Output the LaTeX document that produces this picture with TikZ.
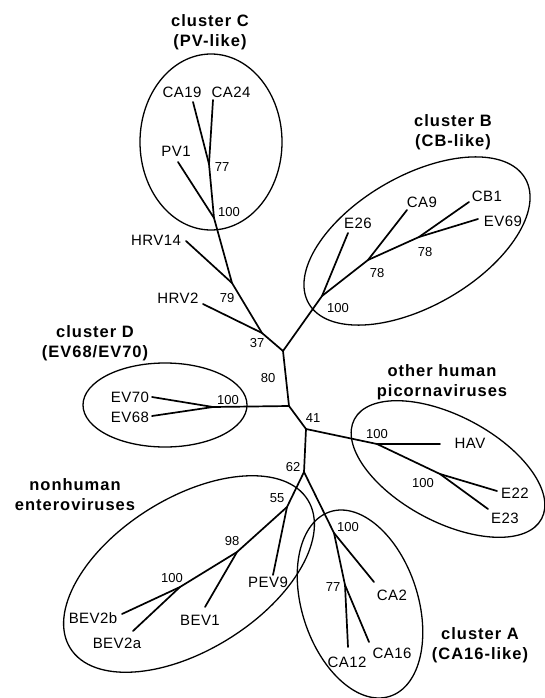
\documentclass[tikz,border=0pt]{standalone}
\usepackage{fontspec}
\setmainfont{Liberation Sans}
\newfontfamily\ttlfont[LetterSpace=6]{Liberation Sans}
\newfontfamily\leaffont[LetterSpace=3]{Liberation Sans}
\begin{document}
\begin{tikzpicture}[x=1pt,y=-1pt,
  br/.style={line width=1.7pt, line cap=round, line join=round},
  ell/.style={line width=1.3pt},
  leaf/.style={font=\leaffont\fontsize{15}{15}\selectfont, inner sep=0pt},
  bs/.style={font=\fontsize{13}{13}\selectfont, inner sep=0pt},
  ttl/.style={font=\ttlfont\bfseries\fontsize{16.5}{20}\selectfont, align=center, inner sep=0pt}]
\useasboundingbox (0,0) rectangle (545,698);

% ---------- coordinates ----------
% cluster C and HRV
\coordinate (tCA19) at (193,102);
\coordinate (tCA24) at (213,100);
\coordinate (n77C) at (209,164);
\coordinate (tPV1) at (178,162);
\coordinate (n100C) at (214,218);
\coordinate (n79) at (232,283);
\coordinate (tHRV14) at (186,241);
\coordinate (tHRV2) at (203,304);
\coordinate (n37) at (262,333);
\coordinate (R1) at (283,351);
% cluster B
\coordinate (nB100) at (322,296);
\coordinate (tE26) at (348,233);
\coordinate (nB78a) at (368,260);
\coordinate (tCA9) at (407,210);
\coordinate (nB78b) at (419,237);
\coordinate (tCB1) at (469,202);
\coordinate (tEV69) at (478,219);
% cluster D
\coordinate (R2) at (289,406);
\coordinate (nD) at (213,407);
\coordinate (tEV70) at (152,397);
\coordinate (tEV68) at (152,416);
% other human
\coordinate (R3) at (306,429);
\coordinate (nH100) at (377,444);
\coordinate (tHAV) at (440,444);
\coordinate (nE100) at (440,474);
\coordinate (tE22) at (497,491);
\coordinate (tE23) at (488,509);
% nonhuman
\coordinate (n62) at (304,472);
\coordinate (n55) at (287,507);
\coordinate (tPEV9) at (273,575);
\coordinate (n98) at (237,552);
\coordinate (tBEV1) at (205,607);
\coordinate (n100N) at (180,587);
\coordinate (tBEV2b) at (122,614);
\coordinate (tBEV2a) at (133,631);
% cluster A
\coordinate (nA100) at (334,533);
\coordinate (tCA2) at (374,582);
\coordinate (n77A) at (345,585);
\coordinate (tCA12) at (348,647);
\coordinate (tCA16) at (369,642);

% ---------- ellipses ----------
\draw[ell] (211,142) ellipse [x radius=71pt, y radius=88pt];
\draw[ell, rotate around={30:(417,241)}] (417,241) ellipse [x radius=125pt, y radius=65pt];
\draw[ell] (165,405) ellipse [x radius=82pt, y radius=42pt];
\draw[ell, rotate around={-28:(448,469)}] (448,469) ellipse [x radius=106pt, y radius=53pt];
\draw[ell, rotate around={32:(189,574)}] (189,574) ellipse [x radius=140pt, y radius=76pt];
\draw[ell, rotate around={18:(360,604)}] (360,604) ellipse [x radius=58pt, y radius=97pt];

% ---------- branches ----------
\draw[br] (tCA19) -- (n77C);
\draw[br] (tCA24) -- (n77C) -- (n100C) -- (n79) -- (n37) -- (R1);
\draw[br] (tPV1) -- (n100C);
\draw[br] (tHRV14) -- (n79);
\draw[br] (tHRV2) -- (n37);
\draw[br] (R1) -- (nB100) -- (nB78a) -- (nB78b) -- (tCB1);
\draw[br] (tE26) -- (nB100);
\draw[br] (tCA9) -- (nB78a);
\draw[br] (tEV69) -- (nB78b);
\draw[br] (R1) -- (R2) -- (R3) -- (n62);
\draw[br] (R2) -- (nD) -- (tEV70);
\draw[br] (nD) -- (tEV68);
\draw[br] (R3) -- (nH100) -- (nE100) -- (tE22);
\draw[br] (nH100) -- (tHAV);
\draw[br] (nE100) -- (tE23);
\draw[br] (n62) -- (n55) -- (n98) -- (n100N) -- (tBEV2b);
\draw[br] (n55) -- (tPEV9);
\draw[br] (n98) -- (tBEV1);
\draw[br] (n100N) -- (tBEV2a);
\draw[br] (n62) -- (nA100) -- (n77A) -- (tCA12);
\draw[br] (nA100) -- (tCA2);
\draw[br] (n77A) -- (tCA16);

% ---------- leaf labels ----------
\node[leaf] (lCA19) at (182,92) {CA19};
\node[leaf] (lCA24) at (231,92) {CA24};
\node[leaf] (lPV1) at (176,151) {PV1};
\node[leaf] (lHRV14) at (156,240) {HRV14};
\node[leaf] (lHRV2) at (178,298) {HRV2};
\node[leaf] (lE26) at (358,223) {E26};
\node[leaf] (lCA9) at (422,202) {CA9};
\node[leaf] (lCB1) at (487,196) {CB1};
\node[leaf] (lEV69) at (503,221) {EV69};
\node[leaf] (lEV70) at (130,397) {EV70};
\node[leaf] (lEV68) at (130,417) {EV68};
\node[leaf] (lHAV) at (470,443) {HAV};
\node[leaf] (lE22) at (515,493) {E22};
\node[leaf] (lE23) at (505,518) {E23};
\node[leaf] (lPEV9) at (268,582) {PEV9};
\node[leaf] (lBEV1) at (200,620) {BEV1};
\node[leaf] (lBEV2b) at (93,618) {BEV2b};
\node[leaf] (lBEV2a) at (117,643) {BEV2a};
\node[leaf] (lCA2) at (392,595) {CA2};
\node[leaf] (lCA12) at (347,662) {CA12};
\node[leaf] (lCA16) at (392,653) {CA16};

% ---------- bootstrap values ----------
\node[bs] (b77C) at (222,167) {77};
\node[bs] (b100C) at (229,212) {100};
\node[bs] (b79) at (227,298) {79};
\node[bs] (b37) at (257,343) {37};
\node[bs] (b100B) at (338,308) {100};
\node[bs] (b78a) at (377,273) {78};
\node[bs] (b78b) at (425,252) {78};
\node[bs] (b80) at (268,378) {80};
\node[bs] (b100D) at (228,400) {100};
\node[bs] (b41) at (313,418) {41};
\node[bs] (b100H) at (377,434) {100};
\node[bs] (b100E) at (423,483) {100};
\node[bs] (b62) at (293,467) {62};
\node[bs] (b55) at (277,498) {55};
\node[bs] (b98) at (232,541) {98};
\node[bs] (b100N) at (172,578) {100};
\node[bs] (b100A) at (348,527) {100};
\node[bs] (b77A) at (333,587) {77};

% ---------- cluster titles ----------
\node[ttl] (tC) at (210,32) {cluster C\\(PV-like)};
\node[ttl] (tB) at (453,132) {cluster B\\(CB-like)};
\node[ttl] (tD) at (95,343) {cluster D\\(EV68/EV70)};
\node[ttl] (tO) at (442,382) {other human\\picornaviruses};
\node[ttl] (tN) at (75,495) {nonhuman\\enteroviruses};
\node[ttl] (tA) at (480,645) {cluster A\\(CA16-like)};
\end{tikzpicture}
\end{document}
